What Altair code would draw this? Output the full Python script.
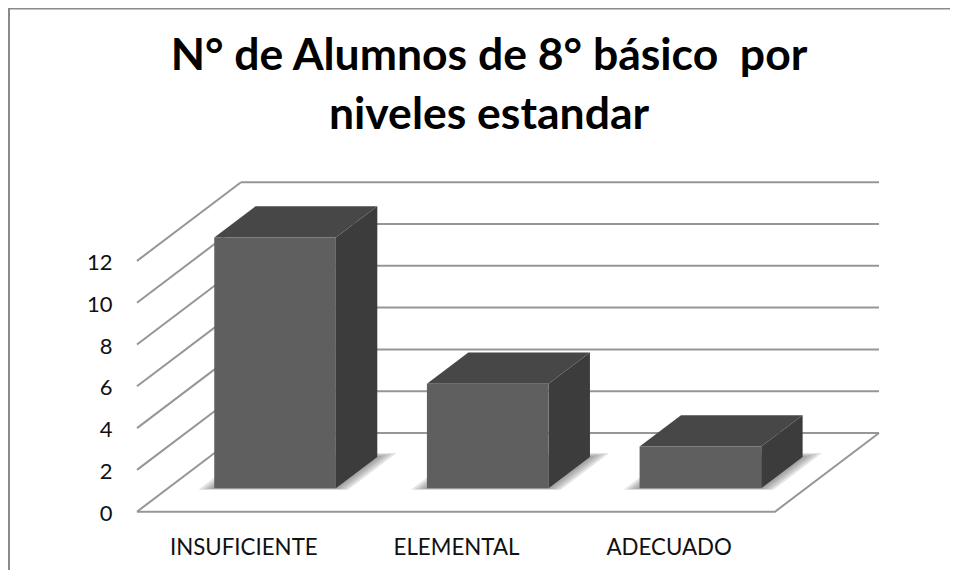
import json
import altair as alt
import pandas as pd

categories = ["INSUFICIENTE", "ELEMENTAL", "ADECUADO"]
values = [12, 5, 2]
y_ticks = [0, 2, 4, 6, 8, 10, 12]
title_lines = ["N° de Alumnos de 8° básico\u00a0 por", "niveles estandar"]

W, H = 942, 562
PX_CAT, PX_VAL = 212.67, 20.9
X0, Y0 = 129.0, 503.7
x_dom = [-X0 / PX_CAT, (W - X0) / PX_CAT]
y_dom = [-(H - Y0) / PX_VAL, Y0 / PX_VAL]
DX = 104 / PX_CAT   # full floor depth, in category units
DY = 78.7 / PX_VAL  # full floor depth, in value units
D0, D1 = 0.297, 0.695
GAP, BW = 0.218, 0.572

xs = alt.Scale(domain=x_dom, range=[0, W], nice=False, zero=False)
ys = alt.Scale(domain=y_dom, range=[H, 0], nice=False, zero=False)

x_axis = alt.Axis(
    title=None, values=[0.5, 1.5, 2.5], domain=False, ticks=False, grid=False,
    labelExpr=f"{json.dumps(categories)}[datum.value - 0.5]",
    labelFontSize=22.3, labelFont="Lato", labelColor="#111111",
    labelPadding=0, offset=-16, labelBaseline="alphabetic", labelOverlap=False)
y_axis = alt.Axis(
    title=None, values=y_ticks, domain=False, ticks=False, grid=False,
    labelFontSize=22, labelFont="Lato", labelColor="#111111",
    labelPadding=0, offset=-104, labelOffset=1.5, labelOverlap=False)
X = alt.X("x:Q", scale=xs, axis=x_axis)
Y = alt.Y("y:Q", scale=ys, axis=y_axis, stack=None)


def proj(c, v, d):
    return c + DX * d, v + DY * d


def para(group, c0, c1, v, d0, d1):
    """Horizontal parallelogram lying at height v, from depth d0 to d1."""
    sx = DX * (d1 - d0)
    sy = DY * (d1 - d0)
    x0, y0 = proj(c0, v, d0)
    x1 = x0 + (c1 - c0)
    return [
        dict(g=group, x=x0, y=y0, y2=y0),
        dict(g=group, x=x0 + sx, y=y0 + sy, y2=y0),
        dict(g=group, x=x1, y=y0 + sy, y2=y0),
        dict(g=group, x=x1 + sx, y=y0 + sy, y2=y0 + sy),
    ]


grid, fronts, tops, sides, shadows = [], [], [], [], []
for t in y_ticks:
    grid += [dict(g=f"b{t}", x=proj(0, t, 1)[0], y=proj(0, t, 1)[1]),
             dict(g=f"b{t}", x=proj(3, t, 1)[0], y=proj(3, t, 1)[1]),
             dict(g=f"d{t}", x=proj(0, t, 0)[0], y=proj(0, t, 0)[1]),
             dict(g=f"d{t}", x=proj(0, t, 1)[0], y=proj(0, t, 1)[1])]
grid += [dict(g="f", x=proj(0, 0, 0)[0], y=proj(0, 0, 0)[1]),
         dict(g="f", x=proj(3, 0, 0)[0], y=proj(3, 0, 0)[1]),
         dict(g="f", x=proj(3, 0, 1)[0], y=proj(3, 0, 1)[1])]

for i, v in enumerate(values):
    c0, c1 = i + GAP, i + GAP + BW
    xa, ya = proj(c0, 0, D0)
    xb = xa + BW
    fronts.append(dict(x=xa, x2=xb, y=ya, y2=ya + v))
    tops += para(f"t{i}", c0, c1, v, D0, D1)
    sx, sy = DX * (D1 - D0), DY * (D1 - D0)
    sides += [dict(g=f"s{i}", x=xb, y=ya, y2=ya + v),
              dict(g=f"s{i}", x=xb + sx, y=ya + sy, y2=ya + v + sy)]
    for k, e in enumerate([0.25, 0.5, 0.75, 1.0]):
        shadows += para(f"h{i}{k}", c0 - 0.066 * e, c1 + 0.066 * e, 0,
                        D0 - 0.018 * e, D1 + 0.05 * e)


def area(rows, color, opacity=1.0):
    return alt.Chart(pd.DataFrame(rows)).mark_area(
        color=color, opacity=opacity, interpolate="linear", strokeWidth=0
    ).encode(x=X, y=Y, y2="y2:Q", detail="g:N")


frame_color = "#8a8a8a"
frame_left = alt.Chart(pd.DataFrame({"a": [0]})).mark_rule(color=frame_color, strokeWidth=2).encode(
    x=alt.value(1), y=alt.value(0), y2=alt.value(H))
frame_top = alt.Chart(pd.DataFrame({"a": [0]})).mark_rule(color=frame_color, strokeWidth=2).encode(
    x=alt.value(0), x2=alt.value(W), y=alt.value(0.5))

grid_layer = alt.Chart(pd.DataFrame(grid)).transform_window(i="row_number()").mark_line(
    color="#969696", strokeWidth=2, interpolate="linear"
).encode(x=X, y=Y, detail="g:N", order=alt.Order("i:Q"))

front_layer = alt.Chart(pd.DataFrame(fronts)).mark_rect(color="#5f5f5f").encode(
    x=X, x2="x2:Q", y=Y, y2="y2:Q",
)

chart = alt.layer(
    grid_layer,
    area(shadows, "#5a5a5a", 0.17),
    area(sides, "#3c3c3c"),
    area(tops, "#474747"),
    front_layer,
    frame_left,
    frame_top,
).properties(
    width=W,
    height=H,
    padding=0,
    autosize=alt.AutoSizeParams(type="none"),
    title=alt.TitleParams(
        text=title_lines, frame="group", anchor="middle", orient="top",
        font="Lato", fontSize=44.5, fontWeight="bold", color="#000000",
        lineHeight=59, offset=-131, dx=10,
    ),
).configure_view(stroke=None)

chart.save("out.html", embed_options={"renderer": "svg", "actions": False})
